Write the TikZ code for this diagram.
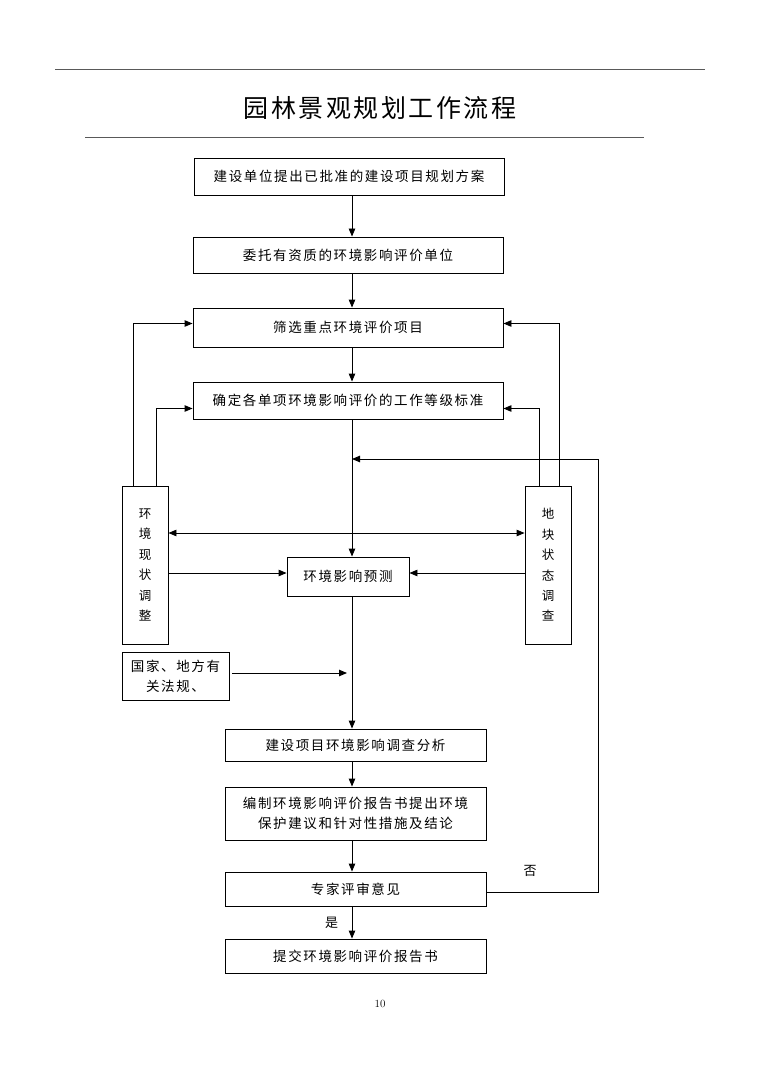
\documentclass[tikz,border=0pt]{standalone}
\usepackage{fontspec}
\newfontfamily\cjk[LetterSpace=12]{Noto Sans CJK SC}
\newfontfamily\cjktitle[LetterSpace=10]{Noto Sans CJK SC}
\usetikzlibrary{arrows.meta, positioning}

\begin{document}
\begin{tikzpicture}[
    x=1pt, y=-1pt,
    box/.style={draw, line width=0.9pt, inner sep=0pt, align=center,
                font=\cjk\fontsize{13.5}{20}\selectfont},
    tallbox/.style={box, minimum width=46pt, minimum height=158pt,
                font=\cjk\fontsize{12.5}{20.4}\selectfont},
    flow/.style={line width=0.9pt, -{Triangle[length=8pt, width=6.5pt]}},
    >={Triangle[length=8pt, width=6.5pt]}
  ]
  \useasboundingbox (0,0) rectangle (760,1075);

  % Title and rules
  \draw[line width=1pt, gray!70!black] (55,70) -- (705,70);
  \node[font=\cjktitle\fontsize{25}{28}\selectfont] (title) at (380,108) {园林景观规划工作流程};
  \draw[line width=1pt, gray!70!black] (85,138) -- (644,138);

  % Main column
  \coordinate (spine) at (352,0);
  \node[box, minimum width=310pt, minimum height=37pt] (plan) at (349,176.5) {建设单位提出已批准的建设项目规划方案};
  \node[box, minimum width=310pt, minimum height=36pt] (entrust) at (348,255) {委托有资质的环境影响评价单位};
  \node[box, minimum width=310pt, minimum height=39pt] (screen) at (348,327.5) {筛选重点环境评价项目};
  \node[box, minimum width=310pt, minimum height=37pt] (grade) at (348,400.5) {确定各单项环境影响评价的工作等级标准};
  \node[box, minimum width=122pt, minimum height=39pt] (predict) at (348,576.5) {环境影响预测};
  \node[box, minimum width=261pt, minimum height=32pt] (survey) at (355.5,745) {建设项目环境影响调查分析};
  \node[box, minimum width=261pt, minimum height=53pt] (report) at (355.5,813.5) {编制环境影响评价报告书提出环境\\保护建议和针对性措施及结论};
  \node[box, minimum width=261pt, minimum height=34pt] (review) at (355.5,889) {专家评审意见};
  \node[box, minimum width=261pt, minimum height=34pt] (submit) at (355.5,956) {提交环境影响评价报告书};

  % Side boxes
  \node[tallbox] (envnow) at (145,565) {环\\境\\现\\状\\调\\整};
  \node[tallbox] (site) at (548,565) {地\\块\\状\\态\\调\\查};
  \node[box, minimum width=107pt, minimum height=48pt] (law) at (175.5,676) {国家、地方有\\关法规、};

  % Flow down the column
  \draw[flow] (plan.south -| spine) -- (entrust.north -| spine);
  \draw[flow] (entrust.south -| spine) -- (screen.north -| spine);
  \draw[flow] (screen.south -| spine) -- (grade.north -| spine);
  \draw[flow] (grade.south -| spine) -- (predict.north -| spine);
  \draw[flow] (predict.south -| spine) -- (survey.north -| spine);
  \draw[flow] (survey.south -| spine) -- (report.north -| spine);
  \draw[flow] (report.south -| spine) -- (review.north -| spine);
  \draw[flow] (review.south -| spine) -- node[left=10pt, font=\cjk\fontsize{13}{15}\selectfont] (yes) {是} (submit.north -| spine);

  % Side links
  \draw[flow] ([xshift=-12pt]envnow.north) |- ([yshift=4pt]screen.west);
  \draw[flow] ([xshift=11pt]envnow.north) |- ([yshift=-8pt]grade.west);
  \draw[flow] ([xshift=11pt]site.north) |- ([yshift=4pt]screen.east);
  \draw[flow] ([xshift=-9pt]site.north) |- ([yshift=-8pt]grade.east);
  \draw[flow, {Triangle[length=8pt, width=6.5pt]}-{Triangle[length=8pt, width=6.5pt]}]
    ([yshift=32pt]envnow.east) -- ([yshift=32pt]site.west);
  \draw[flow] ([yshift=-8pt]envnow.east) -- ([yshift=3.5pt]predict.west);
  \draw[flow] ([yshift=-8pt]site.west) -- ([yshift=3.5pt]predict.east);
  \draw[flow] ([xshift=3pt, yshift=3pt]law.east) -- ([xshift=-5pt, yshift=3pt]law.east -| spine);

  % Feedback loop
  \coordinate (fbturn) at (598,459);
  \draw[flow] ([yshift=-3pt]review.east) -| (fbturn) -- (fbturn -| spine);
  \node[font=\cjk\fontsize{13}{15}\selectfont] (no) at (530,871) {否};

  % Page number
  \node[font=\fontsize{11}{13}\selectfont] (page) at (380,1004) {10};

\end{tikzpicture}
\end{document}
